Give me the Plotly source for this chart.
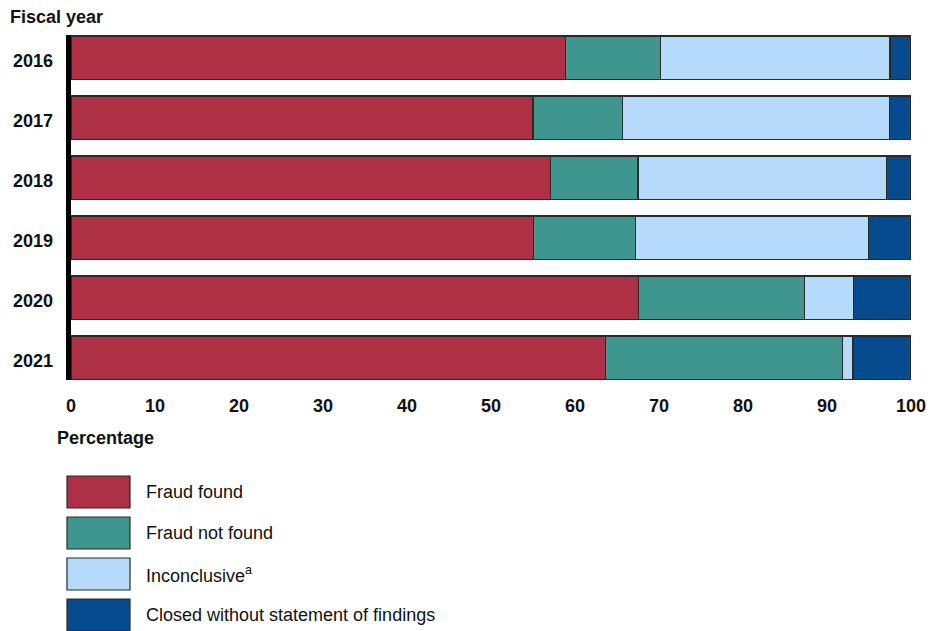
import plotly.graph_objects as go

years = ["2016", "2017", "2018", "2019", "2020", "2021"]
series_names = ["Fraud found", "Fraud not found", "Inconclusive<sup>a</sup>",
                "Closed without statement of findings"]
fraud_found = [58.9, 55.0, 57.1, 55.1, 67.6, 63.6]
fraud_not_found = [11.3, 10.7, 10.4, 12.1, 19.7, 28.2]
inconclusive = [27.3, 31.7, 29.6, 27.7, 5.9, 1.3]
closed = [2.5, 2.6, 2.9, 5.1, 6.8, 6.9]
x_ticks = [0, 10, 20, 30, 40, 50, 60, 70, 80, 90, 100]

colors = ["#AD3045", "#3F968F", "#B6DAFB", "#074B8F"]
values = [fraud_found, fraud_not_found, inconclusive, closed]

W, H = 939, 631
L, R, T, B = 71, 28, 35, 251
pw, ph = W - L - R, H - T - B

def px_x(p):
    return (p - L) / pw

def px_y(p):
    return (H - B - p) / ph

font = "Liberation Sans, Arial, sans-serif"

fig = go.Figure()
for name, vals, c in zip(series_names, values, colors):
    fig.add_trace(go.Bar(
        y=years, x=vals, orientation="h", name=name,
        marker=dict(color=c, line=dict(color="#2a2a2a", width=1.2)),
        showlegend=False,
    ))

shapes = []
annotations = []
# custom legend
for i, (name, c) in enumerate(zip(series_names, colors)):
    top = 476 + i * 41
    bot = top + 32
    shapes.append(dict(type="rect", xref="paper", yref="paper",
                       x0=px_x(67), x1=px_x(130), y0=px_y(bot), y1=px_y(top),
                       fillcolor=c, line=dict(color="#2a2a2a", width=1.2)))
    annotations.append(dict(xref="paper", yref="paper", x=px_x(144), y=px_y((top + bot) / 2),
                            text=name, showarrow=False, xanchor="left", yanchor="middle",
                            font=dict(family=font, size=18, color="#111")))

# year labels at the category positions of the y axis, nudged slightly down
for idx, yr in enumerate(years):
    annotations.append(dict(xref="paper", yref="y", x=px_x(55), y=idx, yshift=-3,
                            text="<b>" + yr + "</b>", showarrow=False, xanchor="right",
                            yanchor="middle", font=dict(family=font, size=18, color="#111")))

annotations.append(dict(xref="paper", yref="paper", x=px_x(8), y=px_y(17),
                        text="<b>Fiscal year</b>", showarrow=False, xanchor="left",
                        yanchor="middle", font=dict(family=font, size=18, color="#111")))
annotations.append(dict(xref="paper", yref="paper", x=px_x(55), y=px_y(438),
                        text="<b>Percentage</b>", showarrow=False, xanchor="left",
                        yanchor="middle", font=dict(family=font, size=18, color="#111")))

fig.update_layout(
    width=W, height=H, barmode="stack", bargap=0.28,
    margin=dict(l=L, r=R, t=T, b=B, pad=0, autoexpand=False),
    plot_bgcolor="white", paper_bgcolor="white",
    shapes=shapes, annotations=annotations,
    xaxis=dict(range=[0, 100], tickvals=x_ticks, ticktext=[str(v) for v in x_ticks],
               showgrid=False, zeroline=False, showline=False, ticks="",
               ticklabelstandoff=13, automargin=False,
               tickfont=dict(family=font, size=18, color="#111", weight="bold")),
    yaxis=dict(type="category", categoryorder="array", categoryarray=years,
               range=[5.375, -0.375],
               showgrid=False, zeroline=False, showline=True, linecolor="black",
               linewidth=5, ticks="", showticklabels=False, automargin=False),
)

fig.write_html("out.html", config={"displayModeBar": False},
               post_script="document.body.style.margin='0';document.body.style.overflow='hidden';")
